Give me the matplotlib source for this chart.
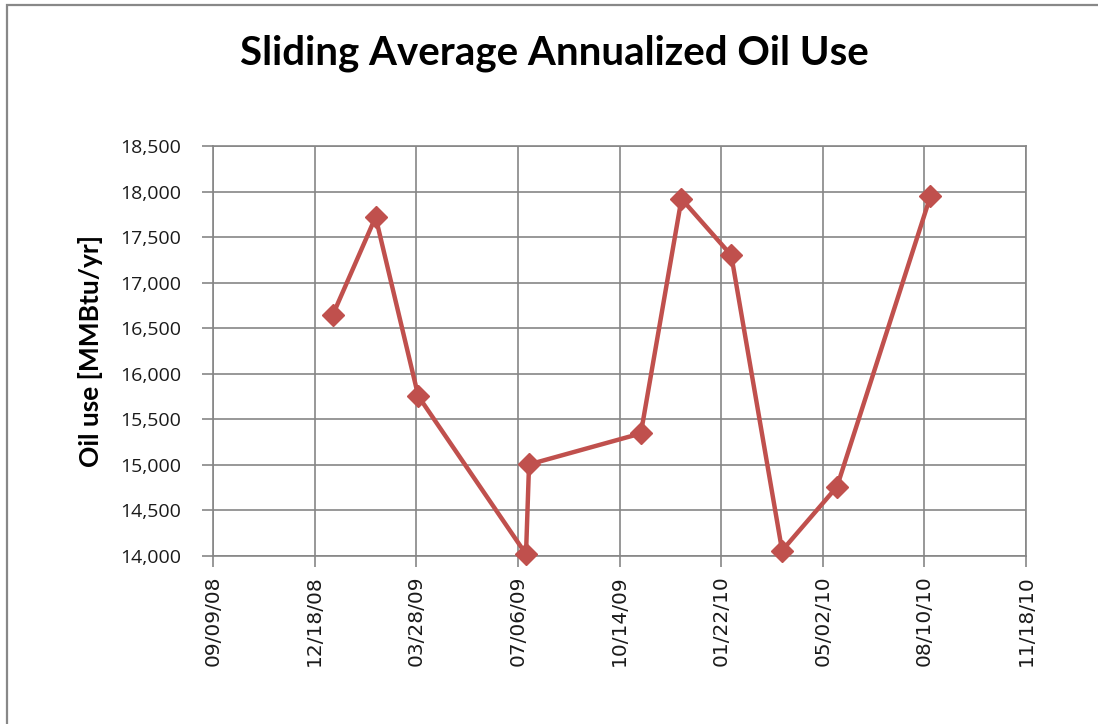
import matplotlib
matplotlib.use("Agg")
import matplotlib.pyplot as plt
import matplotlib.dates as mdates
from matplotlib.patches import Rectangle
from matplotlib.ticker import FuncFormatter, MultipleLocator
import datetime as dt

# sliding average oil use
dates = ["2009-01-05", "2009-02-16", "2009-03-30", "2009-07-14", "2009-07-17",
         "2009-11-04", "2009-12-14", "2010-02-01", "2010-03-23", "2010-05-16",
         "2010-08-16"]
oil_use = [16650, 17720, 15755, 14020, 15005, 15345, 17920, 17300, 14060, 14760, 17950]

x_start = dt.date(2008, 9, 9)
x_end = dt.date(2010, 11, 18)
x_step_days = 100

red = "#C0504D"
grid_gray = "#868686"

fig = plt.figure(figsize=(10.98, 7.24), dpi=100)

# chart area border (Excel style), only top and left visible
fig.patches.append(Rectangle((7 / 1098, -0.05), 1.1, (724 - 5) / 724 + 0.05,
                             transform=fig.transFigure, fill=False,
                             edgecolor="#888888", linewidth=1.6))

ax = fig.add_axes([213 / 1098, 1 - 556 / 724, (1026 - 213) / 1098, (556 - 146) / 724])

x = [dt.datetime.strptime(d, "%Y-%m-%d") for d in dates]
ax.plot(x, oil_use, color=red, linewidth=3.2, marker="D", markersize=11.5,
        markeredgecolor=red, zorder=3, clip_on=False)

ax.set_xlim(mdates.date2num(x_start), mdates.date2num(x_end))
ax.set_ylim(14000, 18500)

tick_dates = []
d = x_start
while d <= x_end:
    tick_dates.append(d)
    d = d + dt.timedelta(days=x_step_days)
ax.set_xticks([mdates.date2num(t) for t in tick_dates],
              [t.strftime("%m/%d/%y") for t in tick_dates],
              rotation=90, fontsize=14.5, family="DejaVu Sans", color="#1a1a1a")

ax.yaxis.set_major_locator(MultipleLocator(500))
ax.yaxis.set_major_formatter(FuncFormatter(lambda v, p: f"{int(v):,}"))

ax.grid(True, color=grid_gray, linewidth=1.2)
ax.set_axisbelow(True)
for s in ax.spines.values():
    s.set_color(grid_gray)
    s.set_linewidth(1.2)

ax.tick_params(axis="both", direction="out", length=8, width=1.2, color=grid_gray)
ax.tick_params(axis="y", labelsize=14, pad=15, labelcolor="#1a1a1a")
ax.tick_params(axis="x", pad=6)
for lab in ax.get_yticklabels():
    lab.set_fontfamily("Open Sans")

ax.set_ylabel("Oil use [MMBtu/yr]", fontsize=19, fontweight="bold",
              family="Lato", labelpad=12)

fig.text(0.505, 1 - 53 / 724, "Sliding Average Annualized Oil Use", ha="center",
         va="center", fontsize=29, fontweight="bold", family="Lato")

fig.savefig("out.png", dpi=100)
